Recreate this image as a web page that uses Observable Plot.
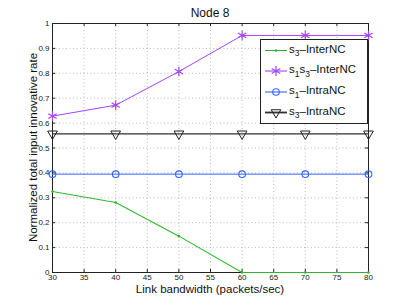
<!DOCTYPE html>
<html><head><meta charset="utf-8">
<script src="https://cdn.jsdelivr.net/npm/d3@7"></script>
<script src="https://cdn.jsdelivr.net/npm/@observablehq/plot@0.6"></script>
<style>body{margin:0;background:#fff}svg{display:block}</style>
</head><body><div id="chart"></div>
<script>
const bandwidth = [30, 40, 50, 60, 70, 80];
const s3InterNC = [0.325, 0.281, 0.146, 0, 0, 0];
const s1s3InterNC = [0.628, 0.672, 0.807, 0.952, 0.952, 0.952];
const s1IntraNC = [0.395, 0.395, 0.395, 0.395, 0.395, 0.395];
const s3IntraNC = [0.557, 0.557, 0.557, 0.557, 0.557, 0.557];
const xTicks = [30, 35, 40, 45, 50, 55, 60, 65, 70, 75, 80];
const yTicks = [0, 0.1, 0.2, 0.3, 0.4, 0.5, 0.6, 0.7, 0.8, 0.9, 1];
const seriesNames = [["s","3","–InterNC"], ["s","1","s","3","–InterNC"], ["s","1","–IntraNC"], ["s","3","–IntraNC"]];
const titleText = "Node 8";
const xLabel = "Link bandwidth (packets/sec)";
const yLabel = "Normalized total input innovative rate";

const colors = ["#2fb82f", "#a444ff", "#3366ff", "#303030"];
const seriesVals = [s3InterNC, s1s3InterNC, s1IntraNC, s3IntraNC];
const rows = seriesVals.map((vals, i) => bandwidth.map((x, j) => ({x, y: vals[j], s: i})));

const W = 407, H = 306, mL = 52, mR = 39, mT = 23, mB = 34;
const font = "Liberation Sans, Arial, sans-serif";

const marks = [
  Plot.gridX(xTicks, {stroke: "#bbb", strokeOpacity: 1, strokeDasharray: "1,2.5"}),
  Plot.gridY(yTicks, {stroke: "#bbb", strokeOpacity: 1, strokeDasharray: "1,2.5"}),
  Plot.ruleX(xTicks, {y1: 0, y2: 0.012, stroke: "#222"}),
  Plot.ruleX(xTicks, {y1: 0.988, y2: 1, stroke: "#222"}),
  Plot.ruleY(yTicks, {x1: 30, x2: 30.5, stroke: "#222"}),
  Plot.ruleY(yTicks, {x1: 79.5, x2: 80, stroke: "#222"}),
  Plot.axisX(xTicks, {tickSize: 0, tickPadding: 2, label: null, fontSize: 8, tickFormat: d => String(d)}),
  Plot.axisY(yTicks, {tickSize: 0, tickPadding: 3, label: null, fontSize: 8, tickFormat: d => String(+d.toFixed(1))}),
  Plot.frame({stroke: "#222"}),
];
rows.forEach((r, i) => {
  marks.push(Plot.line(r, {x: "x", y: "y", stroke: colors[i], strokeWidth: i === 3 ? 1.3 : (i === 0 ? 1.1 : 1)}));
});
marks.push(Plot.dot(rows[0], {x: "x", y: "y", r: 1.3, fill: colors[0], stroke: "none"}));
marks.push(Plot.dot(rows[1], {x: "x", y: "y", r: 4.5, symbol: "asterisk", stroke: colors[1], strokeWidth: 1.2}));
marks.push(Plot.dot(rows[2], {x: "x", y: "y", r: 3.3, symbol: "circle", stroke: colors[2], fill: "none", strokeWidth: 1.1}));
marks.push(Plot.dot(rows[3], {x: "x", y: "y", r: 3.6, symbol: "triangle", rotate: 180, stroke: "#222", fill: "none", strokeWidth: 1}));

const svg = Plot.plot({
  width: W, height: H,
  marginLeft: mL, marginRight: mR, marginTop: mT, marginBottom: mB,
  x: {domain: [30, 80]},
  y: {domain: [0, 1]},
  style: {fontFamily: font, fontSize: "8px", color: "#222", background: "#fff"},
  marks
});
document.getElementById("chart").appendChild(svg);

const s = d3.select(svg);
const cx = mL + (W - mL - mR) / 2;
s.append("text").attr("x", cx).attr("y", 17).attr("text-anchor", "middle")
  .attr("font-family", font).attr("font-size", 12).attr("fill", "#111").text(titleText);
s.append("text").attr("x", cx).attr("y", 293).attr("text-anchor", "middle")
  .attr("font-family", font).attr("font-size", 11.5).attr("fill", "#111").text(xLabel);
s.append("text").attr("transform", `translate(36.5,${mT + (H - mT - mB) / 2}) rotate(-90)`).attr("text-anchor", "middle")
  .attr("font-family", font).attr("font-size", 11.5).attr("fill", "#111").text(yLabel);

// legend
const lg = s.append("g");
lg.append("rect").attr("x", 260.5).attr("y", 39.5).attr("width", 107).attr("height", 84)
  .attr("fill", "#fff").attr("stroke", "#222");
const ly = [50.5, 71, 92, 112.5];
seriesNames.forEach((parts, i) => {
  const y = ly[i];
  lg.append("line").attr("x1", 265).attr("x2", 287).attr("y1", y).attr("y2", y)
    .attr("stroke", colors[i]).attr("stroke-width", i === 3 ? 1.8 : 1.1);
  const mx = 276;
  if (i === 0) lg.append("circle").attr("cx", mx).attr("cy", y).attr("r", 1.3).attr("fill", colors[0]);
  if (i === 1) lg.append("path").attr("d", d3.symbol(d3.symbolAsterisk, 70)()).attr("transform", `translate(${mx},${y})`).attr("stroke", colors[1]).attr("stroke-width", 1.2).attr("fill", "none");
  if (i === 2) lg.append("circle").attr("cx", mx).attr("cy", y).attr("r", 3.3).attr("fill", "none").attr("stroke", colors[2]).attr("stroke-width", 1.1);
  if (i === 3) lg.append("path").attr("d", d3.symbol(d3.symbolTriangle, 40)()).attr("transform", `translate(${mx},${y}) rotate(180)`).attr("stroke", "#222").attr("fill", "none");
  const t = lg.append("text").attr("x", 289).attr("y", y + 2).attr("text-anchor", "start")
    .attr("font-family", font).attr("font-size", 11.5).attr("fill", "#111");
  let sub = false;
  parts.forEach((p) => {
    const isSub = /^\d$/.test(p);
    const ts = t.append("tspan").text(p);
    if (isSub) ts.attr("font-size", 8.5);
    if (isSub && !sub) { ts.attr("dy", 3.5); sub = true; }
    else if (!isSub && sub) { ts.attr("dy", -3.5); sub = false; }
  });
});
</script></body></html>
